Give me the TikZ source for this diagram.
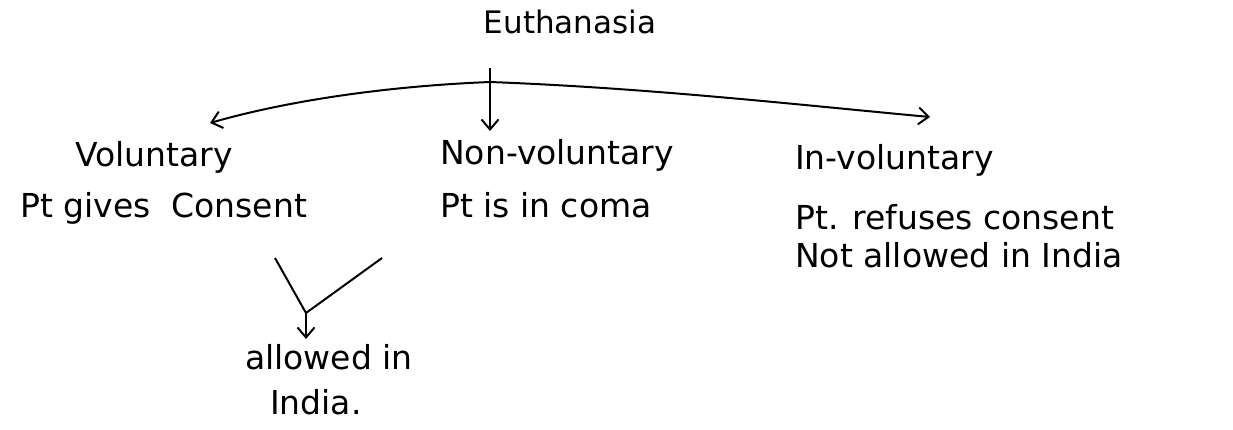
\documentclass[tikz,border=0pt]{standalone}
\usepackage{fontspec}
\setmainfont{DejaVu Sans}
\usetikzlibrary{arrows.meta}
\begin{document}
\begin{tikzpicture}[x=1pt,y=-1pt,
  lbl/.style={inner sep=0pt,anchor=west,font=\fontsize{33}{38}\selectfont},
  conn/.style={line width=2pt,-{Straight Barb[length=10pt,width=17pt,line width=2pt]}},
  plain/.style={line width=2pt}]
\useasboundingbox (0,0) rectangle (1233,429);
\node[lbl,anchor=center,font=\fontsize{31}{36}\selectfont] (title) at (570,22) {Euthanasia};
\coordinate (j) at (490,82);
\coordinate (jt) at (490,68);
\node[lbl] (vol) at (75,157) {Voluntary};
\node[lbl] (volc) at (20,208) {Pt gives\ \ Consent};
\node[lbl] (non) at (440,155) {Non-voluntary};
\node[lbl] (nonc) at (440,205) {Pt is in coma};
\node[lbl] (inv) at (795,160) {In-voluntary};
\node[lbl] (invc) at (795,217) {Pt. refuses consent};
\node[lbl] (invn) at (795,255) {Not allowed in India};
\node[lbl] (allow) at (245,357) {allowed in};
\node[lbl] (india) at (270,402) {India.};
\coordinate (vl) at (275,258);
\coordinate (vr) at (382,258);
\coordinate (vj) at (306,313);
\draw[plain] (jt) -- (j);
\draw[conn] (j) .. controls (390,86) and (290,100) .. (210,123);
\draw[conn] (j) -- (490,131);
\draw[conn] (j) .. controls (650,88) and (800,105) .. (930,117);
\draw[plain] (vl) -- (vj) -- (vr);
\draw[conn] (vj) -- (306,339);
\end{tikzpicture}
\end{document}
